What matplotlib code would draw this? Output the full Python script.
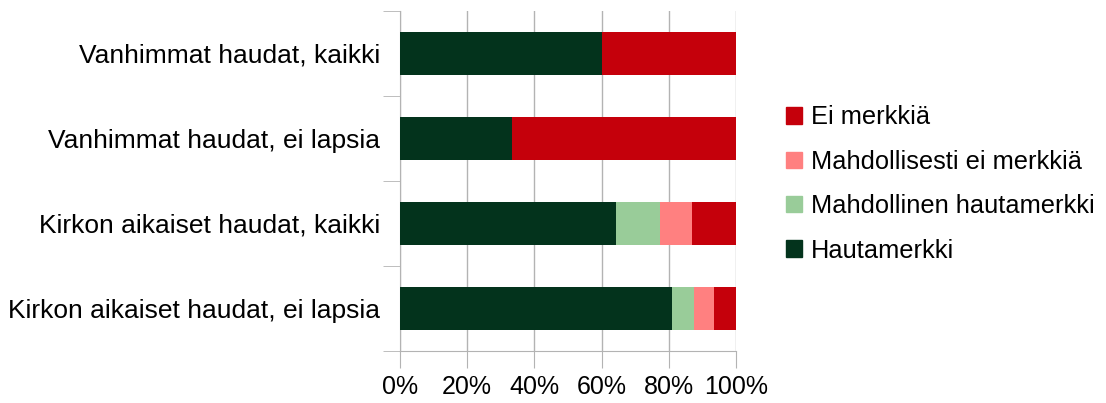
import matplotlib.pyplot as plt
import matplotlib.ticker as mticker
from matplotlib.patches import Patch
import numpy as np

plt.rcParams['font.family'] = ['Liberation Sans', 'DejaVu Sans']

# --- data ---
categories = ['Vanhimmat haudat, kaikki', 'Vanhimmat haudat, ei lapsia',
              'Kirkon aikaiset haudat, kaikki', 'Kirkon aikaiset haudat, ei lapsia']
series_names = ['Hautamerkki', 'Mahdollinen hautamerkki', 'Mahdollisesti ei merkkiä', 'Ei merkkiä']
hautamerkki = [60.0, 33.3, 64.4, 81.0]
mahdollinen = [0.0, 0.0, 13.0, 6.5]
mahd_ei = [0.0, 0.0, 9.6, 6.0]
ei_merkkia = [40.0, 66.7, 13.0, 6.5]
colors = ['#03331c', '#99cc99', '#ff8080', '#c5000b']

fig = plt.figure(figsize=(11.06, 4.03), dpi=100)
ax = fig.add_axes([400 / 1106, 1 - 351 / 403, 336 / 1106, 340 / 403])

y = np.arange(len(categories))
left = np.zeros(len(categories))
for vals, col in zip([hautamerkki, mahdollinen, mahd_ei, ei_merkkia], colors):
    ax.barh(y, vals, left=left, height=0.5, color=col, zorder=3)
    left += np.array(vals)

ax.set_ylim(len(categories) - 0.5, -0.5)
ax.set_xlim(0, 100)
ax.set_yticks(y)
ax.set_yticklabels(categories, fontsize=19)
ax.set_yticks(np.arange(-0.5, len(categories), 1), minor=True)
ax.tick_params(axis='y', which='major', length=0, pad=14.4)
ax.tick_params(axis='y', which='minor', length=12, color='#b3b3b3')
ax.set_xticks(np.arange(0, 101, 20))
ax.xaxis.set_major_formatter(mticker.PercentFormatter(decimals=0))
ax.tick_params(axis='x', labelsize=18, length=12, color='#b3b3b3', pad=5)
ax.grid(axis='x', color='#b3b3b3', linewidth=1, zorder=0)
for s in ['top', 'right']:
    ax.spines[s].set_visible(False)
for s in ['left', 'bottom']:
    ax.spines[s].set_color('#b3b3b3')

handles = [Patch(color=c, label=n) for c, n in zip(colors, series_names)][::-1]
fig.legend(handles=handles, loc='center left', bbox_to_anchor=(763 / 1106, 1 - 184 / 403),
           frameon=False, fontsize=18.3, handlelength=0.62, handleheight=0.62,
           handletextpad=0.36, labelspacing=0.8)

plt.savefig('out.png')
